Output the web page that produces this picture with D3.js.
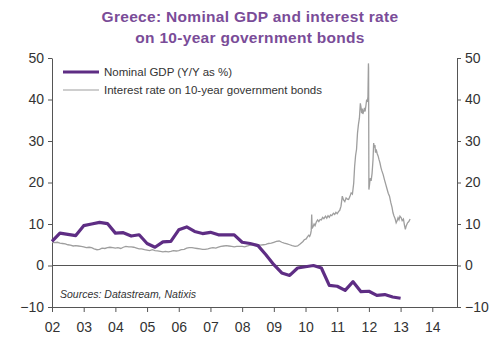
<!DOCTYPE html>
<html>
<head>
<meta charset="utf-8">
<script src="https://cdn.jsdelivr.net/npm/d3@7"></script>
<style>
  body { margin: 0; background: #fff; }
  svg { font-family: "Liberation Sans", Arial, sans-serif; }
  .axis text { fill: #333; font-size: 14px; }
  .axis path, .axis line { stroke: #555; }
</style>
</head>
<body>
<div id="chart"></div>
<script>
// Nominal GDP (Y/Y %), quarterly, decimal years
const gdpYears = [2002.0, 2002.25, 2002.5, 2002.75, 2003.0, 2003.25, 2003.5, 2003.75,
  2004.0, 2004.25, 2004.5, 2004.75, 2005.0, 2005.25, 2005.5, 2005.75,
  2006.0, 2006.25, 2006.5, 2006.75, 2007.0, 2007.25, 2007.5, 2007.75,
  2008.0, 2008.25, 2008.5, 2008.75, 2009.0, 2009.25, 2009.5, 2009.75,
  2010.0, 2010.25, 2010.5, 2010.75, 2011.0, 2011.25, 2011.5, 2011.75,
  2012.0, 2012.25, 2012.5, 2012.75, 2013.0];
const gdpValues = [5.8, 7.8, 7.5, 7.2, 9.6, 10.0, 10.4, 10.1,
  7.8, 7.9, 7.1, 7.4, 5.3, 4.4, 5.7, 5.8,
  8.6, 9.3, 8.2, 7.7, 8.0, 7.4, 7.4, 7.4,
  5.6, 5.3, 4.8, 2.6, 0.2, -1.8, -2.4, -0.6,
  -0.3, 0.0, -0.6, -4.8, -5.0, -6.0, -3.9, -6.3,
  -6.2, -7.2, -7.0, -7.6, -7.9];

// Interest rate on 10-year government bonds (%)
const rateYears = [
  2002.00, 2002.08, 2002.17, 2002.25, 2002.33, 2002.42, 2002.50, 2002.58, 2002.67, 2002.75, 2002.83, 2002.92,
  2003.00, 2003.08, 2003.17, 2003.25, 2003.33, 2003.42, 2003.50, 2003.58, 2003.67, 2003.75, 2003.83, 2003.92,
  2004.00, 2004.08, 2004.17, 2004.25, 2004.33, 2004.42, 2004.50, 2004.58, 2004.67, 2004.75, 2004.83, 2004.92,
  2005.00, 2005.08, 2005.17, 2005.25, 2005.33, 2005.42, 2005.50, 2005.58, 2005.67, 2005.75, 2005.83, 2005.92,
  2006.00, 2006.08, 2006.17, 2006.25, 2006.33, 2006.42, 2006.50, 2006.58, 2006.67, 2006.75, 2006.83, 2006.92,
  2007.00, 2007.08, 2007.17, 2007.25, 2007.33, 2007.42, 2007.50, 2007.58, 2007.67, 2007.75, 2007.83, 2007.92,
  2008.00, 2008.08, 2008.17, 2008.25, 2008.33, 2008.42, 2008.50, 2008.58, 2008.67, 2008.75, 2008.83, 2008.92,
  2009.00, 2009.08, 2009.17, 2009.25, 2009.33, 2009.42, 2009.50, 2009.58, 2009.67, 2009.75, 2009.83, 2009.92,
  2009.96, 2010.02, 2010.06, 2010.10, 2010.13, 2010.16, 2010.18, 2010.195, 2010.21, 2010.24, 2010.27, 2010.30,
  2010.34, 2010.38, 2010.42, 2010.46, 2010.50, 2010.54, 2010.58, 2010.63, 2010.67, 2010.71, 2010.75, 2010.79,
  2010.83, 2010.88, 2010.92, 2010.96, 2011.00, 2011.04, 2011.08, 2011.12, 2011.16, 2011.20, 2011.24, 2011.28,
  2011.32, 2011.36, 2011.40, 2011.44, 2011.48, 2011.52, 2011.55, 2011.58, 2011.61, 2011.64, 2011.67, 2011.70,
  2011.73, 2011.75, 2011.77, 2011.79, 2011.81, 2011.84, 2011.86, 2011.88, 2011.91, 2011.93, 2011.95, 2011.97,
  2011.985, 2011.99, 2012.00, 2012.02, 2012.04, 2012.07, 2012.10, 2012.13, 2012.15, 2012.17, 2012.19, 2012.21,
  2012.23, 2012.26, 2012.29, 2012.32, 2012.35, 2012.38, 2012.41, 2012.45, 2012.49, 2012.53, 2012.57, 2012.61,
  2012.65, 2012.69, 2012.73, 2012.76, 2012.79, 2012.83, 2012.86, 2012.89, 2012.92, 2012.95, 2012.98, 2013.02,
  2013.05, 2013.09, 2013.12, 2013.15, 2013.18, 2013.22, 2013.26, 2013.30];
const rateValues = [
  5.6, 5.5, 5.6, 5.4, 5.3, 5.2, 5.0, 4.9, 4.7, 4.8, 4.7, 4.6,
  4.5, 4.3, 4.4, 4.3, 4.0, 3.8, 3.9, 4.2, 4.1, 4.3, 4.4, 4.3,
  4.2, 4.3, 4.1, 4.4, 4.6, 4.5, 4.5, 4.4, 4.2, 4.0, 4.0, 3.8,
  3.7, 3.6, 3.8, 3.6, 3.5, 3.4, 3.3, 3.4, 3.3, 3.4, 3.6, 3.5,
  3.6, 3.8, 3.9, 4.2, 4.3, 4.3, 4.2, 4.1, 4.0, 3.9, 3.9, 4.0,
  4.2, 4.3, 4.2, 4.4, 4.6, 4.7, 4.8, 4.7, 4.6, 4.5, 4.6, 4.6,
  4.6, 4.5, 4.7, 4.9, 5.0, 5.1, 5.0, 4.9, 5.0, 5.1, 5.3, 5.4,
  5.6, 5.8, 5.9, 5.6, 5.4, 5.2, 5.0, 4.8, 4.6, 4.7, 5.2, 5.8,
  6.2, 6.4, 6.9, 7.3, 7.0, 7.6, 8.4, 12.3, 8.9, 9.4, 10.0, 9.6,
  10.5, 11.0, 10.6, 11.1, 11.0, 11.6, 11.3, 11.9, 11.4, 12.0, 11.6, 12.2,
  12.0, 12.6, 12.3, 12.8, 12.5, 13.0, 13.3, 14.3, 16.7, 15.8, 15.4, 16.3,
  16.0, 15.9, 16.6, 17.5, 17.2, 19.8, 23.9, 26.5, 28.0, 31.9, 34.0, 35.5,
  39.1, 38.2, 36.7, 37.8, 36.5, 37.4, 38.0, 37.1, 38.8, 40.0, 39.4, 40.7,
  48.7, 47.6, 18.3, 19.5, 21.0, 20.4, 22.2, 25.5, 29.5, 28.4, 29.0, 27.2,
  28.0, 27.0, 26.4, 25.5, 24.7, 23.6, 22.8, 21.9, 20.7, 19.6, 18.5, 17.4,
  16.7, 15.2, 14.0, 12.7, 12.0, 11.2, 10.3, 10.8, 11.5, 11.0, 11.9, 11.5,
  10.8, 11.2, 9.8, 8.7, 9.6, 10.3, 10.6, 11.2];

const yTicks = [-10, 0, 10, 20, 30, 40, 50];
const xTicks = [2002, 2003, 2004, 2005, 2006, 2007, 2008, 2009, 2010, 2011, 2012, 2013, 2014];

const titleLines = ['Greece: Nominal GDP and interest rate', 'on 10-year government bonds'];
const legendLabels = ['Nominal GDP (Y/Y as %)', 'Interest rate on 10-year government bonds'];
const sourceText = 'Sources: Datastream, Natixis';

const width = 500;
const height = 352;
const plot = { left: 52, right: 457, top: 58, bottom: 307 };

const svg = d3.select('#chart')
  .append('svg')
  .attr('width', width)
  .attr('height', height);

const xScale = d3.scaleLinear()
  .domain([2002, 2014.78])
  .range([plot.left, plot.right]);

const yScale = d3.scaleLinear()
  .domain([-10, 50])
  .range([plot.bottom, plot.top]);

// title
svg.append('g')
  .selectAll('text')
  .data(titleLines)
  .join('text')
  .attr('x', 250)
  .attr('y', (d, i) => 22 + i * 21)
  .attr('text-anchor', 'middle')
  .attr('font-size', 15.5)
  .attr('font-weight', 'bold')
  .attr('letter-spacing', 0.3)
  .attr('fill', '#7a4c98')
  .text((d) => d);

// zero line
svg.append('line')
  .attr('x1', plot.left).attr('x2', plot.right)
  .attr('y1', yScale(0)).attr('y2', yScale(0))
  .attr('stroke', '#555')
  .attr('stroke-width', 1);

// axes
const fmtYear = (d) => String(d % 100).padStart(2, '0');

svg.append('g')
  .attr('class', 'axis')
  .attr('transform', `translate(0, ${plot.bottom})`)
  .call(d3.axisBottom(xScale).tickValues(xTicks).tickFormat(fmtYear).tickSize(5).tickSizeOuter(0).tickPadding(10));

svg.append('g')
  .attr('class', 'axis')
  .attr('transform', `translate(${plot.left}, 0)`)
  .call(d3.axisLeft(yScale).tickValues(yTicks).tickSize(4).tickSizeOuter(0).tickPadding(4));

svg.append('g')
  .attr('class', 'axis')
  .attr('transform', `translate(${plot.right}, 0)`)
  .call(d3.axisRight(yScale).tickValues(yTicks).tickSize(4).tickSizeOuter(0).tickPadding(4));

svg.selectAll('.axis path').attr('stroke', '#555');
svg.selectAll('.axis line').attr('stroke', '#555');

// lines
const rateData = rateYears.map((t, i) => ({ t, v: rateValues[i] }));
const gdpData = gdpYears.map((t, i) => ({ t, v: gdpValues[i] }));

const line = d3.line()
  .x((d) => xScale(d.t))
  .y((d) => yScale(d.v));

svg.append('path')
  .datum(rateData)
  .attr('d', line)
  .attr('fill', 'none')
  .attr('stroke', '#9e9e9e')
  .attr('stroke-width', 1.3);

svg.append('path')
  .datum(gdpData)
  .attr('d', line)
  .attr('fill', 'none')
  .attr('stroke', '#5e2d84')
  .attr('stroke-width', 3.2)
  .attr('stroke-linejoin', 'round');

// legend
const legend = svg.append('g');
const legendStyles = [
  { stroke: '#5e2d84', width: 3.2 },
  { stroke: '#9e9e9e', width: 1.2 }
];
legendLabels.forEach((label, i) => {
  const y = 72 + i * 18;
  legend.append('line')
    .attr('x1', 63).attr('x2', 99)
    .attr('y1', y).attr('y2', y)
    .attr('stroke', legendStyles[i].stroke)
    .attr('stroke-width', legendStyles[i].width);
  legend.append('text')
    .attr('x', 104)
    .attr('y', y + 4)
    .attr('font-size', 11.5)
    .attr('fill', '#333')
    .text(label);
});

// source note
svg.append('text')
  .attr('x', 60)
  .attr('y', 298)
  .attr('font-size', 10.5)
  .attr('font-style', 'italic')
  .attr('fill', '#333')
  .text(sourceText);
</script>
</body>
</html>
